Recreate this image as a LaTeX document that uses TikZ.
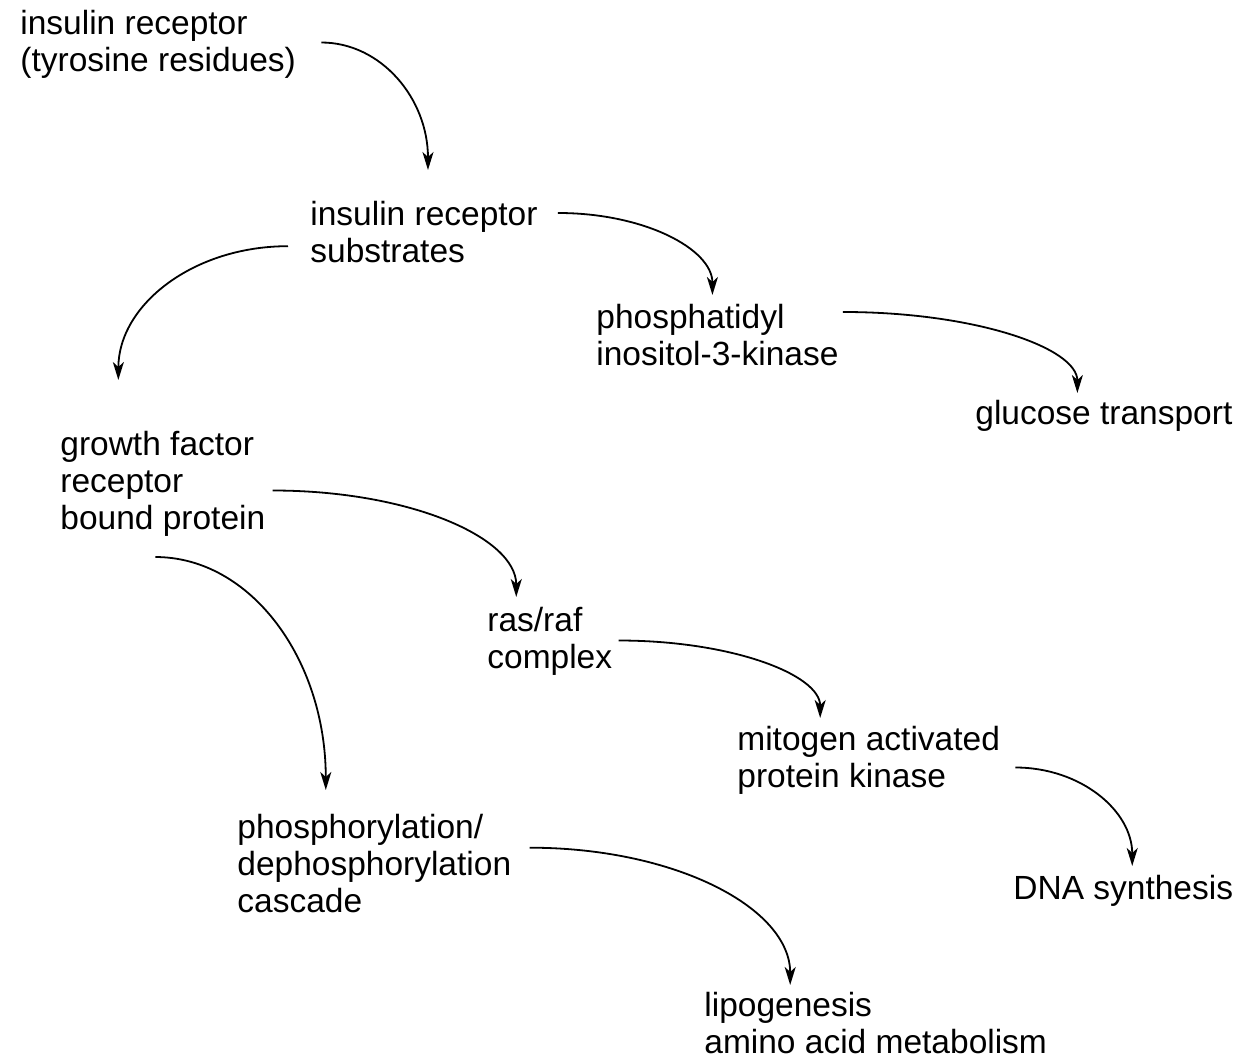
\documentclass[tikz,border=0pt]{standalone}
\usepackage{fontspec}
\setmainfont{Liberation Sans}
\usetikzlibrary{arrows.meta,calc}

\begin{document}
\begin{tikzpicture}[x=0.5pt,y=-0.5pt,
    label/.style={anchor=north west, inner sep=0pt, align=left,
        font=\fontsize{16.75}{18.5}\selectfont},
    flow/.style={-{Stealth[length=9pt,width=5.5pt,inset=2.5pt]}, line width=0.9pt},
    % quarter ellipse: leave level, arrive heading down
    sweep/.style={to path={let \p1=(\tikztostart), \p2=(\tikztotarget) in
        (\p1) .. controls (\x1+0.56*\x2-0.56*\x1, \y1) and (\x2, \y2+0.56*\y1-0.56*\y2) .. (\p2)}}]

    % Page size
    \useasboundingbox (0,0) rectangle (1250,1058);

    % Labels
    \node[label] (irec) at (20,10) {insulin receptor\\(tyrosine residues)};
    \node[label] (irs) at (310,201) {insulin receptor\\substrates};
    \node[label] (pik) at (596,304) {phosphatidyl\\inositol-3-kinase};
    \node[label] (glut) at (975,400) {glucose transport};
    \node[label] (grb) at (60,431) {growth factor\\receptor\\bound protein};
    \node[label] (ras) at (487,607) {ras/raf\\complex};
    \node[label] (mapk) at (737,726) {mitogen activated\\protein kinase};
    \node[label] (dna) at (1013,875) {DNA synthesis};
    \node[label] (casc) at (237,814) {phosphorylation/\\dephosphorylation\\cascade};
    \node[label] (lipo) at (704,992) {lipogenesis\\amino acid metabolism};

    % Arrows
    \draw[flow] ([shift={(25,-2)}]irec.east) to[sweep] ([shift={(4,-31)}]irs.north);
    \draw[flow] ([shift={(20,12)}]irs.north east) to[sweep] ([shift={(-5,-9)}]pik.north);
    \draw[flow] ([shift={(-22,14)}]irs.west) to[sweep] ([shift={(-44.5,-51)}]grb.north);
    \draw[flow] ([shift={(4,8)}]pik.north east) to[sweep] ([shift={(-26.5,-7)}]glut.north);
    \draw[flow] ([shift={(7,6.5)}]grb.east) to[sweep] ([shift={(-33.5,-10)}]ras.north);
    \draw[flow] ([shift={(-7.5,20)}]grb.south) to[sweep] ([shift={(-48.5,-24)}]casc.north);
    \draw[flow] ([shift={(6,-1)}]ras.east) to[sweep] ([shift={(-48.5,-8)}]mapk.north);
    \draw[flow] ([shift={(15,7)}]mapk.east) to[sweep] ([shift={(9,-9)}]dna.north);
    \draw[flow] ([shift={(18,-16)}]casc.east) to[sweep] ([shift={(-85.5,-7)}]lipo.north);

\end{tikzpicture}
\end{document}
